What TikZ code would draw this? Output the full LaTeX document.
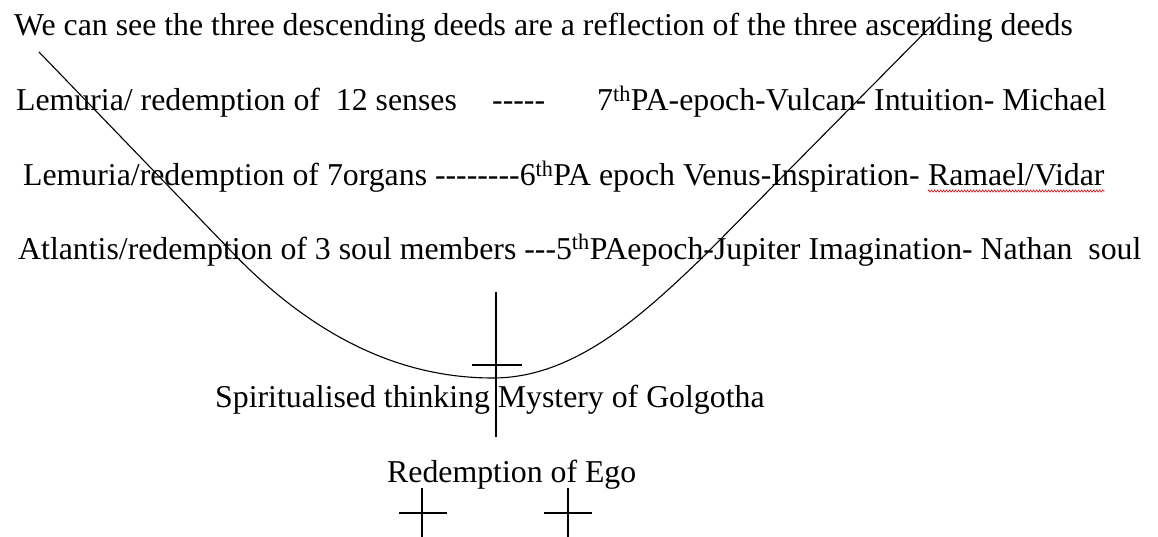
\documentclass[tikz,border=0pt]{standalone}
\usepackage{fontspec}
\setmainfont{Liberation Serif}
\usetikzlibrary{decorations.pathmorphing}
\begin{document}
\begin{tikzpicture}[x=1pt,y=-1pt,
  txt/.style={anchor=base west, inner sep=0pt, font=\fontsize{31.8}{36}\selectfont},
  curveline/.style={line width=1.1pt},
  crossline/.style={line width=1.5pt},
  squiggle/.style={draw=red!75!black, line width=0.6pt, decorate, decoration={zigzag, amplitude=1.1pt, segment length=3pt}}]
\useasboundingbox[fill=white] (0,0) rectangle (1158,537);
\node[txt] (title) at (14,36) {We can see the three descending deeds are a reflection of the three ascending deeds};
\node[txt] (l1a) at (16,111) {Lemuria/ redemption of\ \ 12 senses};
\node[txt] (l1b) at (492,111) {-{}-{}-{}-{}-};
\node[txt] (l1c) at (597,111) {7\textsuperscript{th}PA-epoch-Vulcan- Intuition- Michael};
\node[txt] (l2a) at (23,186) {Lemuria/redemption of 7organs -{}-{}-{}-{}-{}-{}-{}-6\textsuperscript{th}PA epoch Venus-Inspiration-};
\node[txt] (l2b) at ([xshift=7.95pt]l2a.base east) {Ramael/Vidar};
\draw[squiggle] ([yshift=-5pt]l2b.base west) -- ([yshift=-5pt]l2b.base east);
\node[txt] (l3) at (18,259) {Atlantis/redemption of 3 soul members -{}-{}-5\textsuperscript{th}PAepoch-Jupiter Imagination- Nathan\ \ soul};
\node[txt] (l4) at (215,407) {Spiritualised thinking Mystery of Golgotha};
\node[txt] (l5) at (387,482) {Redemption of Ego};
% curve
\draw[curveline] (39,52) -- (230,250) .. controls (330,355) and (423,378) .. (493,378)
  .. controls (573,378) and (640,318) .. (705,255) -- (940,17);
% central cross
\draw[crossline] (496,292) -- (496,437);
\draw[crossline] (472,365) -- (522,365);
% lower crosses
\draw[crossline] (422,488) -- (422,537);
\draw[crossline] (399,513) -- (447,513);
\draw[crossline] (568,488) -- (568,537);
\draw[crossline] (544,513) -- (592,513);
\end{tikzpicture}
\end{document}
